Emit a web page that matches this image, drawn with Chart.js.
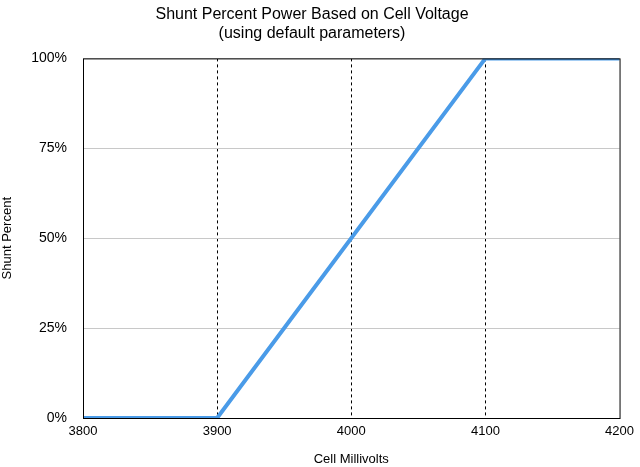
<!DOCTYPE html>
<html><head><meta charset="utf-8">
<script src="https://cdn.jsdelivr.net/npm/chart.js@4"></script>
<style>html,body{margin:0;padding:0;background:#fff}#w{width:640px;height:467px}</style>
</head><body><div id="w"><canvas id="c"></canvas></div>
<script>
const millivolts = [3800, 3900, 4100, 4200];
const shuntPercent = [0, 0, 100, 100];
const yTicks = [0, 25, 50, 75, 100];
const xTicks = [3800, 3900, 4000, 4100, 4200];
const FONT = 'Helvetica, Arial, "Liberation Sans", sans-serif';
Chart.defaults.font.family = FONT;
Chart.defaults.color = '#000';
const box = {id:'box', afterDraw(ch){const a=ch.chartArea,c=ch.ctx;c.save();c.strokeStyle='#000';c.lineWidth=1;c.setLineDash([]);c.strokeRect(a.left+0.5,a.top+0.5,a.right-a.left,a.bottom-a.top);c.restore();}};
new Chart(document.getElementById('c'), {
  type:'line',
  data:{datasets:[{data:millivolts.map((x,i)=>({x,y:shuntPercent[i]})),borderColor:'#4a9be8',borderWidth:4,pointRadius:0,fill:false,tension:0}]},
  options:{responsive:true,maintainAspectRatio:false,animation:false,
    layout:{padding:{left:0,right:16,top:0,bottom:0}},
    plugins:{legend:{display:false},tooltip:{enabled:false},
      title:{display:true,text:['Shunt Percent Power Based on Cell Voltage','(using default parameters)'],font:{size:16,weight:'normal'},lineHeight:1.25,padding:{top:5,bottom:15}}},
    scales:{
      x:{type:'linear',min:3800,max:4200,
        afterBuildTicks(s){s.ticks=xTicks.map(v=>({value:v}));},
        afterFit(s){s.height=49;},
        ticks:{font:{size:13},padding:6,maxRotation:0,callback:v=>String(v)},
        grid:{color:c=>(c.tick&&(c.tick.value===3800||c.tick.value===4200))?'rgba(0,0,0,0)':'#000',drawTicks:false,lineWidth:1},
        border:{display:false,dash:[3,3]},
        title:{display:true,text:'Cell Millivolts',font:{size:13},padding:{top:2,bottom:0}}},
      y:{min:0,max:100,
        afterBuildTicks(s){s.ticks=yTicks.map(v=>({value:v}));},
        afterFit(s){s.width=83;},
        ticks:{font:{size:14},padding:16,callback:v=>v+'%'},
        grid:{color:'#c8c8c8',drawTicks:false},
        border:{display:false},
        title:{display:true,text:'Shunt Percent',font:{size:13},padding:{top:0,bottom:2}}}
    }},
  plugins:[box]
});
</script></body></html>
